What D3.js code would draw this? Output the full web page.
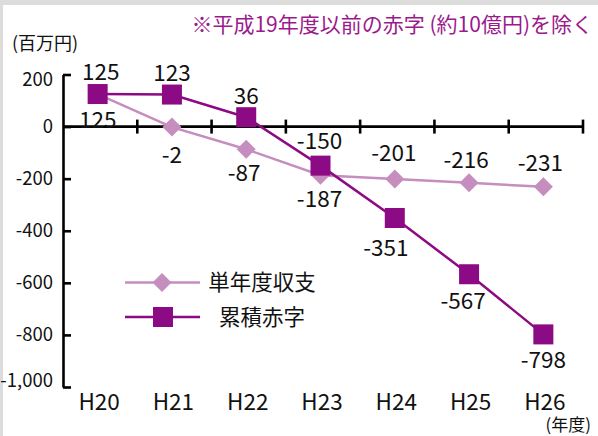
<!DOCTYPE html>
<html><head><meta charset="utf-8">
<script src="https://cdn.jsdelivr.net/npm/d3@7"></script>
<style>
html,body{margin:0;padding:0;background:#fff;}
svg{display:block;}
text{font-family:"Noto Sans CJK JP","Noto Sans",sans-serif;}
</style></head>
<body>
<svg id="chart" width="598" height="436"></svg>
<script>
const categories = ["H20","H21","H22","H23","H24","H25","H26"];
const annualBalance = [125, -2, -87, -187, -201, -216, -231];
const cumulativeDeficit = [125, 123, 36, -150, -351, -567, -798];
const yTicks = [200, 0, -200, -400, -600, -800, -1000];
const seriesNames = ["単年度収支", "累積赤字"];
const titleText = "※平成19年度以前の赤字 (約10億円)を除く";
const yUnit = "(百万円)";
const xUnit = "(年度)";

const svg = d3.select("#chart");
const W = 598, H = 436;
const lightC = "#c68dbf", darkC = "#8c0a84";

// frame
svg.append("rect").attr("x",0).attr("y",0).attr("width",W).attr("height",H).attr("fill","#fff");
svg.append("rect").attr("x",0).attr("y",0).attr("width",W).attr("height",5).attr("fill","#dcdcdc");
svg.append("rect").attr("x",0).attr("y",0).attr("width",3).attr("height",H).attr("fill","#dcdcdc");

const x0 = 63, x1 = 583;
const xb = d3.scaleBand().domain(categories).range([x0, x1]).padding(0);
const bw = xb.bandwidth();
const px = c => xb(c) + bw/2 - 2.5;
const y = d3.scaleLinear().domain([-1000, 200]).range([387, 74.5]);

const fmt = d => d3.format(",")(d).replace("\u2212","-");

// y axis
const yAxis = d3.axisLeft(y).tickValues(yTicks).tickSizeInner(-8).tickSizeOuter(0).tickPadding(10).tickFormat(fmt);
const gy = svg.append("g").attr("transform",`translate(${x0},0)`).call(yAxis);
gy.select(".domain").attr("stroke","#000").attr("stroke-width",2.6);
gy.selectAll(".tick line").attr("stroke","#000").attr("stroke-width",2.6);
gy.selectAll(".tick text").attr("font-size",18.5).attr("fill","#111")
  .attr("font-family","'Noto Sans CJK JP','Noto Sans',sans-serif")
  .attr("y", d => Math.min(Math.max(y(d), 80), 381) - y(d));

// zero line with ticks
const gx = svg.append("g");
gx.append("line").attr("x1",x0).attr("x2",x1).attr("y1",y(0)).attr("y2",y(0))
  .attr("stroke","#000").attr("stroke-width",2.6);
gx.selectAll("line.tk").data(categories).enter().append("line").attr("class","tk")
  .attr("x1", c => xb(c)+bw).attr("x2", c => xb(c)+bw)
  .attr("y1", y(0)-7).attr("y2", y(0)+7).attr("stroke","#000").attr("stroke-width",2.6);

// x labels
svg.selectAll("text.xl").data(categories).enter().append("text").attr("class","xl")
  .attr("x", c => xb(c)+bw/2 - 1).attr("y", 409.5).attr("text-anchor","middle")
  .attr("font-size",22.5).attr("fill","#111").text(c => c);

// units / title
svg.append("text").attr("x",12).attr("y",50).attr("font-size",18).attr("fill","#111").text(yUnit);
svg.append("text").attr("x",591).attr("y",431).attr("text-anchor","end").attr("font-size",17).attr("fill","#111").text(xUnit);
svg.append("text").attr("x",593).attr("y",32).attr("text-anchor","end").attr("font-size",21).attr("fill","#9b1a8c").text(titleText);

// series
const lineGen = vals => d3.line().x((d,i)=>px(categories[i])).y(d=>y(d))(vals);
svg.append("path").attr("d", lineGen(annualBalance)).attr("fill","none").attr("stroke",lightC).attr("stroke-width",2.5);
svg.append("path").attr("d", lineGen(cumulativeDeficit)).attr("fill","none").attr("stroke",darkC).attr("stroke-width",2.5);

const dSize = 9.5, sSize = 10;
const diamond = (cx,cy,r) => `M${cx},${cy-r}L${cx+r},${cy}L${cx},${cy+r}L${cx-r},${cy}Z`;
svg.selectAll("path.dm").data(annualBalance).enter().append("path").attr("class","dm")
  .attr("d",(d,i)=>diamond(px(categories[i]), y(d), dSize)).attr("fill",lightC);
svg.selectAll("rect.sq").data(cumulativeDeficit).enter().append("rect").attr("class","sq")
  .attr("x",(d,i)=>px(categories[i])-sSize).attr("y",d=>y(d)-sSize)
  .attr("width",sSize*2).attr("height",sSize*2).attr("fill",darkC);

// value labels
const annualOff = [[0,26],[0,28],[-2,24],[-1,24],[-1,-26],[-3,-23],[-3,-24]];
const cumOff = [[3,-22],[0,-22],[0,-21],[-1,-25],[-9,30],[-6,27],[0,26]];
function labels(vals, offs, cls){
  svg.selectAll("text."+cls).data(vals).enter().append("text").attr("class",cls)
    .attr("x",(d,i)=>px(categories[i])+offs[i][0])
    .attr("y",(d,i)=>y(d)+offs[i][1]).attr("dy","0.36em")
    .attr("text-anchor","middle").attr("font-size",22.5).attr("fill","#111")
    .text(d=>fmt(d));
}
labels(annualBalance, annualOff, "la");
labels(cumulativeDeficit, cumOff, "lc");

// legend
const legY = [282.5, 317];
const lg = svg.append("g");
lg.append("line").attr("x1",125).attr("x2",200).attr("y1",legY[0]).attr("y2",legY[0]).attr("stroke",lightC).attr("stroke-width",2.5);
lg.append("path").attr("d",diamond(162,legY[0],dSize)).attr("fill",lightC);
lg.append("line").attr("x1",125).attr("x2",200).attr("y1",legY[1]).attr("y2",legY[1]).attr("stroke",darkC).attr("stroke-width",2.5);
lg.append("rect").attr("x",163-sSize).attr("y",legY[1]-sSize).attr("width",sSize*2).attr("height",sSize*2).attr("fill",darkC);
lg.selectAll("text").data(seriesNames).enter().append("text")
  .attr("x",262).attr("y",(d,i)=>legY[i]).attr("dy","0.36em").attr("text-anchor","middle")
  .attr("font-size",21.5).attr("fill","#111").text(d=>d);
</script>
</body></html>
